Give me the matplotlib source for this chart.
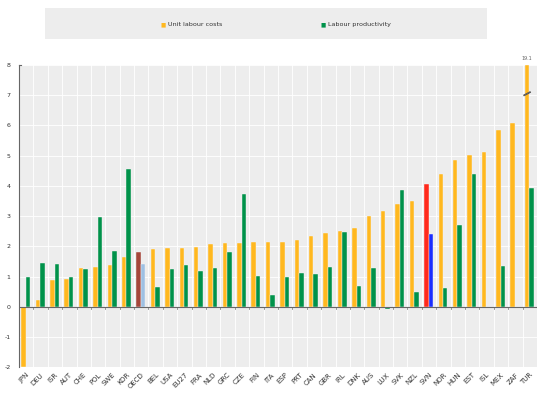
import numpy as np
import matplotlib.pyplot as plt
from matplotlib.patches import Rectangle

countries = ['JPN', 'DEU', 'ISR', 'AUT', 'CHE', 'POL', 'SWE', 'KOR', 'OECD', 'BEL',
             'USA', 'EU27', 'FRA', 'NLD', 'GRC', 'CZE', 'FIN', 'ITA', 'ESP', 'PRT',
             'CAN', 'GBR', 'IRL', 'DNK', 'AUS', 'LUX', 'SVK', 'NZL', 'SVN', 'NOR',
             'HUN', 'EST', 'ISL', 'MEX', 'ZAF', 'TUR']
ulc = [-2.0, 0.24, 0.89, 0.91, 1.30, 1.33, 1.40, 1.65, 1.83, 1.90,
       1.94, 1.96, 1.99, 2.07, 2.10, 2.10, 2.14, 2.14, 2.16, 2.21,
       2.36, 2.43, 2.52, 2.60, 3.02, 3.16, 3.42, 3.52, 4.05, 4.38,
       4.86, 5.01, 5.12, 5.86, 6.09, 19.1]
prod = [0.99, 1.45, 1.43, 0.98, 1.24, 2.96, 1.85, 4.55, 1.41, 0.66,
        1.27, 1.39, 1.19, 1.29, 1.83, 3.74, 1.03, 0.38, 0.98, 1.12,
        1.09, 1.32, 2.49, 0.69, 1.30, -0.08, 3.86, 0.49, 2.40, 0.62,
        2.71, 4.38, 0.0, 1.34, 0.0, 3.92]

ymin, ymax = -2, 8
yellow = '#FFB81F'
green = '#00924A'

ulc_colors = [yellow] * len(countries)
prod_colors = [green] * len(countries)
ulc_colors[countries.index('OECD')] = '#A5463A'
prod_colors[countries.index('OECD')] = '#9EC0E3'
ulc_colors[countries.index('SVN')] = '#FF2A1C'
prod_colors[countries.index('SVN')] = '#1A2EFF'

fig = plt.figure(figsize=(5.49, 3.93), dpi=100)
ax = fig.add_axes([0.0346, 0.065, 0.9434, 0.7696])
ax.set_facecolor('#EDEDED')

x = np.arange(len(countries))
w = 0.31
ulc_plot = np.clip(ulc, ymin, ymax)
ax.bar(x - w/2 - 0.03, ulc_plot, w, color=ulc_colors, edgecolor='#F6F6F6', linewidth=0.3, zorder=3)
ax.bar(x + w/2 - 0.03, prod, w, color=prod_colors, edgecolor='#F6F6F6', linewidth=0.3, zorder=3)

# break marker and label for the clipped bar
i = countries.index('TUR')
bx = i - w/2 - 0.03
ax.plot([bx - 0.2, bx + 0.2], [7.0, 7.1], color='#444444', lw=1.2, zorder=4)
ax.plot([bx - 0.18, bx + 0.18], [7.0, 7.1], color='#AAAAAA', lw=0.4, ls=(0, (1, 1)), zorder=5)
ax.text(bx, 8.12, f'{ulc[i]:.1f}', ha='center', va='bottom', fontsize=3.5, color='#666666')

ax.set_xlim(-0.5, len(countries) - 0.5)
ax.set_ylim(ymin, ymax)
ax.set_yticks(range(ymin, ymax + 1))
ax.set_yticklabels([str(v) for v in range(ymin, ymax + 1)], fontsize=4.5, color='#333333')
ax.set_xticks(x)
ax.set_xticklabels(countries, rotation=45, ha='right', rotation_mode='anchor', fontsize=5, color='#333333')
ax.tick_params(axis='x', length=0, pad=3)
ax.tick_params(axis='y', length=0, pad=6)

ax.set_xticks(np.arange(0.5, len(countries) - 1, 1), minor=True)
ax.tick_params(axis='x', which='minor', length=0)
ax.grid(True, axis='y', color='white', lw=0.6, zorder=0)
ax.grid(True, axis='x', which='minor', color='white', lw=0.6, zorder=0)
ax.grid(False, axis='x', which='major')
for xm in np.arange(0.5, len(countries) - 1, 1):
    ax.plot([xm, xm], [0, -0.08], color='#888888', lw=0.6, zorder=4)

ax.axhline(0, color='#666666', lw=0.8, zorder=4)
for s in ['top', 'right', 'bottom']:
    ax.spines[s].set_visible(False)
ax.spines['left'].set_color('#666666')
ax.spines['left'].set_linewidth(0.8)
ax.plot([-0.5, -0.35], [8, 8], color='#666666', lw=0.8, clip_on=False, zorder=4)

# legend box
fig.patches.append(Rectangle((45/549, 1 - 39/393), 442/549, 31/393,
                             transform=fig.transFigure, facecolor='#EDEDED',
                             edgecolor='none', zorder=0))
ly = 1 - 24.5/393
fig.text(160/549, ly, '\u25A0', color=yellow, fontsize=4, ha='left', va='center')
fig.text(168/549, ly, 'Unit labour costs', fontsize=4.6, ha='left', va='center', color='#333333')
fig.text(320/549, ly, '\u25A0', color=green, fontsize=4, ha='left', va='center')
fig.text(328/549, ly, 'Labour productivity', fontsize=4.6, ha='left', va='center', color='#333333')

fig.savefig('out.png', dpi=100)
